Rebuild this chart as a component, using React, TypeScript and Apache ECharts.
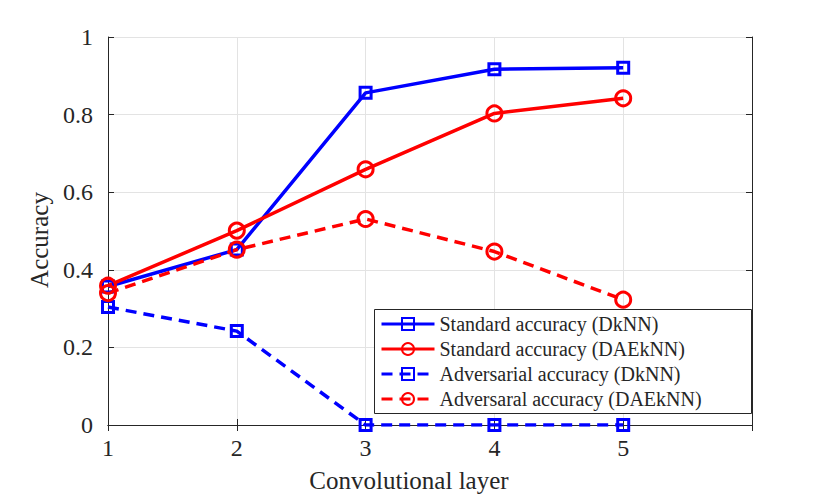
import React, { useEffect, useRef } from "react";
import * as echarts from "echarts";

const layers = [1, 2, 3, 4, 5];
const stdDkNN = [0.357, 0.452, 0.856, 0.917, 0.921];
const stdDAEkNN = [0.359, 0.501, 0.659, 0.803, 0.842];
const advDkNN = [0.304, 0.242, 0, 0, 0];
const advDAEkNN = [0.34, 0.452, 0.531, 0.447, 0.323];
const seriesNames = [
  "Standard accuracy (DkNN)",
  "Standard accuracy (DAEkNN)",
  "Adversarial accuracy (DkNN)",
  "Adversaral accuracy (DAEkNN)",
];

const FONT = "Liberation Serif";
const AX = "#262626";

function pairs(vals: number[]) {
  return layers.map((x, i) => [x, vals[i]]);
}

export default function App() {
  const ref = useRef<HTMLDivElement>(null);
  useEffect(() => {
    const chart = echarts.init(ref.current!, null, { renderer: "svg" });
    const mk = (name: string, vals: number[], color: string, symbol: string, size: number, dashed: boolean) => ({
      name,
      type: "line",
      data: pairs(vals),
      symbol,
      symbolSize: size,
      showSymbol: true,
      lineStyle: { color, width: 3.5, type: dashed ? [11, 7] : "solid" },
      itemStyle: { color: "rgba(0,0,0,0)", borderColor: color, borderWidth: 3 },
      emphasis: { disabled: true },
      z: 3,
    });
    chart.setOption({
      animation: false,
      textStyle: { fontFamily: FONT },
      grid: { left: 108, top: 37, right: 78, bottom: 72, containLabel: false },
      xAxis: [
        {
          type: "value",
          min: 1,
          max: 6,
          interval: 1,
          name: "Convolutional layer",
          nameLocation: "middle",
          nameGap: 43,
          nameTextStyle: { fontFamily: FONT, fontSize: 25, color: AX, padding: [0, 42, 0, 0] },
          axisLine: { lineStyle: { color: AX, width: 1 } },
          axisTick: { inside: true, length: 6, lineStyle: { color: AX } },
          axisLabel: {
            fontFamily: FONT,
            fontSize: 24,
            color: AX,
            margin: 11,
            formatter: (v: number) => (v === 6 ? "" : String(v)),
          },
          splitLine: { show: true, lineStyle: { color: "#e3e3e3", width: 1 } },
        },
        {
          type: "value",
          position: "top",
          min: 1,
          max: 6,
          interval: 1,
          axisLine: { show: true, lineStyle: { color: AX, width: 1 } },
          axisTick: { show: true, inside: true, length: 6, lineStyle: { color: AX } },
          axisLabel: { show: false },
          splitLine: { show: false },
        },
      ],
      yAxis: [
        {
          type: "value",
          min: 0,
          max: 1,
          interval: 0.2,
          name: "Accuracy",
          nameLocation: "middle",
          nameGap: 54,
          nameTextStyle: { fontFamily: FONT, fontSize: 25, color: AX, padding: [0, 18, 0, 0] },
          axisLine: { show: true, lineStyle: { color: AX, width: 1 } },
          axisTick: { show: true, inside: true, length: 6, lineStyle: { color: AX } },
          axisLabel: { fontFamily: FONT, fontSize: 24, color: AX, margin: 15 },
          splitLine: { show: true, lineStyle: { color: "#e3e3e3", width: 1 } },
        },
        {
          type: "value",
          position: "right",
          min: 0,
          max: 1,
          interval: 0.2,
          axisLine: { show: true, lineStyle: { color: AX, width: 1 } },
          axisTick: { show: true, inside: true, length: 6, lineStyle: { color: AX } },
          axisLabel: { show: false },
          splitLine: { show: false },
        },
      ],
      legend: {
        orient: "vertical",
        left: 380,
        top: 314,
        padding: 0,
        itemWidth: 53,
        itemHeight: 15,
        itemGap: 5,
        textStyle: { fontFamily: FONT, fontSize: 20, color: AX },
        lineStyle: { width: 3 },
        data: seriesNames,
        selectedMode: false,
        z: 10,
      },
      graphic: [
        {
          type: "rect",
          shape: { x: 374.5, y: 309.5, width: 377, height: 104 },
          style: { fill: "#fff", stroke: AX, lineWidth: 1 },
          z: 9,
        },
      ],
      series: [
        mk(seriesNames[0], stdDkNN, "#0000ff", "rect", 11, false),
        mk(seriesNames[1], stdDAEkNN, "#ff0000", "circle", 15, false),
        mk(seriesNames[2], advDkNN, "#0000ff", "rect", 11, true),
        mk(seriesNames[3], advDAEkNN, "#ff0000", "circle", 15, true),
      ],
    });
    return () => chart.dispose();
  }, []);
  return (
    <div
      ref={ref}
      style={{ position: "fixed", left: 0, top: 0, width: 830, height: 498, background: "#fff" }}
    />
  );
}
